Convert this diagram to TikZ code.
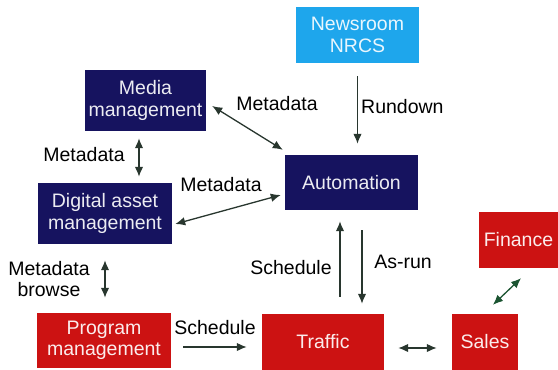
\documentclass[tikz,border=0pt]{standalone}
\usepackage{fontspec}
\setmainfont{Liberation Sans}
\usetikzlibrary{arrows.meta}
\definecolor{navybox}{HTML}{16135F}
\definecolor{skybox}{HTML}{1EA6EC}
\definecolor{redbox}{HTML}{CC1212}
\definecolor{flow}{HTML}{28362E}
\definecolor{flowgreen}{HTML}{1B5431}
\begin{document}
\begin{tikzpicture}[x=1pt,y=-1pt,
  font=\fontsize{19.5}{21.5}\selectfont,
  box/.style={inner sep=0pt, align=center, text=white},
  navy/.style={box, fill=navybox, text=white!92!navybox},
  sky/.style={box, fill=skybox, text=white!90!skybox},
  redb/.style={box, fill=redbox, text=white!92!redbox},
  arr/.style={draw=flow, line width=1.3pt, -{Latex[length=10pt,width=8.5pt]}},
  darr/.style={draw=flow, line width=1.3pt, {Latex[length=10pt,width=8.5pt]}-{Latex[length=10pt,width=8.5pt]}},
  lbl/.style={inner sep=0pt, align=center, text=black}]
\useasboundingbox (0,0) rectangle (558,370);

% boxes
\node[navy, minimum width=121pt, minimum height=61pt] (media) at (145.5,100.5) {Media\\management};
\node[sky,  minimum width=123pt, minimum height=56pt] (nrcs)  at (357.5,35) {Newsroom\\NRCS};
\node[navy, minimum width=133pt, minimum height=55pt] (auto)  at (351.5,182.5) {Automation};
\node[navy, minimum width=134pt, minimum height=61pt] (dam)   at (105,213.5) {Digital asset\\management};
\node[redb, minimum width=134pt, minimum height=55pt] (prog)  at (104,340.5) {Program\\management};
\node[redb, minimum width=122pt, minimum height=56pt] (traffic) at (323,342) {Traffic};
\node[redb, minimum width=66pt,  minimum height=56pt] (sales) at (485,342) {Sales};
\node[redb, minimum width=79pt,  minimum height=56pt] (fin)   at (518.5,240) {Finance};

% connectors
\draw[arr, shorten <=13pt, shorten >=11pt] (nrcs.south) -- (nrcs.south |- auto.north);
\draw[darr] ([shift={(6,5.5)}]media.east) -- ([shift={(-2,-5)}]auto.north west);
\draw[darr, shorten <=7pt, shorten >=6pt] ([xshift=-6.5]media.south) -- ([xshift=-6.5]media.south |- dam.north);
\draw[darr] ([shift={(3,10.5)}]dam.east) -- ([shift={(-4,12.5)}]auto.west);
\draw[darr, shorten <=16pt, shorten >=15pt] (dam.south) -- (dam.south |- prog.north);
\draw[arr, shorten <=12pt, shorten >=15pt] ([shift={(0,6.5)}]prog.east) -- ([shift={(0,6.5)}]prog.east -| traffic.west);
\draw[arr, shorten <=17pt, shorten >=11pt] ([xshift=17]traffic.north) -- ([xshift=17]traffic.north |- auto.south);
\draw[arr, shorten <=20pt, shorten >=10pt] ([xshift=39]traffic.north |- auto.south) -- ([xshift=39]traffic.north);
\draw[darr, shorten <=14pt, shorten >=15pt] ([shift={(0,6)}]traffic.east) -- ([shift={(0,6)}]traffic.east -| sales.west);
\draw[darr, draw=flowgreen] ([shift={(8,-9)}]sales.north) -- ([shift={(2.5,10)}]fin.south);

% labels
\node[lbl, anchor=west] (lrun) at (361,107) {Rundown};
\node[lbl] (lmeta1) at (277,104) {Metadata};
\node[lbl] (lmeta2) at (84,155) {Metadata};
\node[lbl] (lmeta3) at (221,185) {Metadata};
\node[lbl] (lbrowse) at (49,279) {Metadata\\browse};
\node[lbl] (lsched1) at (215,328) {Schedule};
\node[lbl] (lsched2) at (291,268) {Schedule};
\node[lbl] (lasrun) at (403,262) {As-run};
\end{tikzpicture}
\end{document}
